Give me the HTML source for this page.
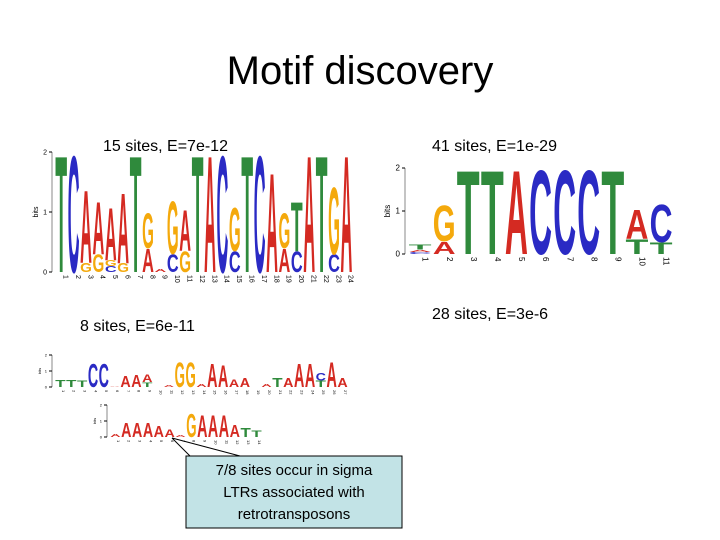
<!DOCTYPE html>
<html><head><meta charset="utf-8"><style>
body{margin:0;background:#fff}
svg{display:block;font-family:"Liberation Sans",sans-serif}
</style></head><body>
<svg id="s" width="720" height="540" viewBox="0 0 720 540">
<text x="360" y="84" text-anchor="middle" font-size="40">Motif discovery</text>
<text x="103" y="151" font-size="16">15 sites, E=7e-12</text>
<text x="432" y="151" font-size="16">41 sites, E=1e-29</text>
<text x="80" y="331" font-size="16">8 sites, E=6e-11</text>
<text x="432" y="319" font-size="16">28 sites, E=3e-6</text>
<g id="logos"></g>
<line x1="172" y1="438" x2="190" y2="456" stroke="#000" stroke-width="1"/>
<line x1="172" y1="438" x2="240" y2="456" stroke="#000" stroke-width="1"/>
<rect x="186" y="456" width="216" height="72" fill="#c2e3e6" stroke="#000" stroke-width="1"/>
<text x="294" y="475" text-anchor="middle" font-size="15">7/8 sites occur in sigma</text>
<text x="294" y="497" text-anchor="middle" font-size="15">LTRs associated with</text>
<text x="294" y="519" text-anchor="middle" font-size="15">retrotransposons</text>
</svg>
<script>
const logo1Letters=["T","C","GA","GA","CGA","GA","T","AG","A","CG","GA","T","A","C","CG","T","C","A","AG","CT","A","T","CG","A"];
const logo1Heights=[[2],[2],[0.15,1.25],[0.3,0.9],[0.1,0.1,0.9],[0.15,1.2],[2],[0.4,0.6],[0.05],[0.3,0.9],[0.35,0.7],[2],[2],[2],[0.35,0.75],[2],[2],[1.7],[0.4,0.6],[0.35,0.85],[2],[2],[0.3,1.15],[2]];
const logo2Letters=["CAT","AG","T","T","A","C","C","C","T","TA","TC"];
const logo2Heights=[[0.05,0.05,0.12],[0.3,0.85],[2],[2],[2],[2],[2],[2],[2],[0.35,0.7],[0.28,0.9]];
const logo3Letters=["T","T","T","C","C","A","A","A","TA","A","A","G","G","A","A","A","A","A","A","A","T","A","A","A","TC","A","A"];
const logo3Heights=[[0.45],[0.45],[0.4],[1.5],[1.5],[0.05],[0.7],[0.8],[0.3,0.5],[0.02],[0.1],[1.6],[1.6],[0.2],[1.5],[1.4],[0.5],[0.6],[0.02],[0.2],[0.6],[0.6],[1.5],[1.5],[0.4,0.5],[1.6],[0.6]];
const logo4Letters=["A","A","A","A","A","A","A","G","A","A","A","A","T","T"];
const logo4Heights=[[0.2],[0.9],[0.9],[0.9],[0.7],[0.5],[0.1],[1.5],[1.4],[1.4],[1.4],[0.8],[0.6],[0.4]];
const COL={A:"#d42a22",C:"#2a2ac4",G:"#f4a90c",T:"#2f8a3c"};
const NS="http://www.w3.org/2000/svg";
const root=document.getElementById("logos");
function mk(t,a,p){const e=document.createElementNS(NS,t);for(const k in a)e.setAttribute(k,a[k]);(p||root).appendChild(e);return e;}
function logo(name,letters,heights,x0,colW,y0,pxPerBit,fs,n0){
  const g=mk("g",{});
  
  
  const yS=b=>y0-b*pxPerBit;
  const ax=mk("line",{x1:x0-3,y1:yS(0),x2:x0-3,y2:yS(2),stroke:"#888","stroke-width":1},g);
  
  
  [0,1,2].forEach(v=>{
    mk("line",{x1:x0-6,y1:yS(v),x2:x0-3,y2:yS(v),stroke:"#000","stroke-width":1},g);
    const t=mk("text",{x:x0-8,y:yS(v)+fs/3,"font-size":fs,"text-anchor":"end"},g);
    t.textContent=v;
    
    
  });
  const yl=mk("text",{transform:`translate(${x0-10-fs},${yS(1)}) rotate(-90)`,"font-size":fs,"text-anchor":"middle"},g);
  yl.textContent="bits";
  
  
  letters.forEach((s,i)=>{
    let cum=0;
    const x=x0+i*colW;
    for(let j=0;j<s.length;j++){
      const h=heights[i][j]*pxPerBit;
      const yb=yS(cum);
      cum+=heights[i][j];
      if(h<0.5)continue;
      const t=mk("text",{x:0,y:0,"font-size":100,"font-weight":"bold",fill:COL[s[j]],textLength:colW*0.95,lengthAdjust:"spacingAndGlyphs",transform:`translate(${x+colW*0.025},${yb}) scale(1,${h/72})`},g);
      t.textContent=s[j];
      
      
    }
    const l=mk("text",{transform:`translate(${x+colW/2+fs/3},${y0+3}) rotate(90)`,"font-size":fs},g);
    l.textContent=i+n0;
    
    
  });
}
logo("logo-15-sites",logo1Letters,logo1Heights,55,12.4,272,60,7,1);
logo("logo-41-sites",logo2Letters,logo2Heights,408,24.1,254,43,8,1);
logo("logo-8-sites-row1",logo3Letters,logo3Heights,55,10.85,387,16,4,1);
logo("logo-8-sites-row2",logo4Letters,logo4Heights,110,10.85,437,16,4,1);
</script>
</body></html>
